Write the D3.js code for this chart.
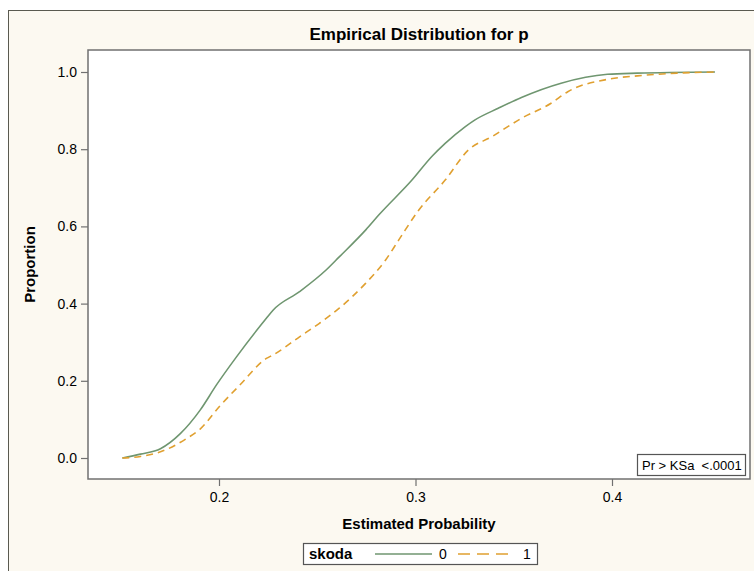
<!DOCTYPE html>
<html>
<head>
<meta charset="utf-8">
<script src="https://cdn.jsdelivr.net/npm/d3@7"></script>
<style>
  body { margin: 0; background: #fff; }
  svg { display: block; font-family: "Liberation Sans", Arial, sans-serif; }
</style>
</head>
<body>
<svg id="chart" width="754" height="571"></svg>
<script>
// ECDF of estimated probability p, by skoda group
const p0 = [0.1508, 0.1600, 0.1702, 0.1803, 0.1904, 0.1988, 0.2089, 0.2241, 0.2275, 0.2410, 0.2545, 0.2612,
            0.2747, 0.2814, 0.2982, 0.3083, 0.3151, 0.3252, 0.3303, 0.3421, 0.3539, 0.3741, 0.3977,
            0.4129, 0.4524];
const cdf0 = [0, 0.010, 0.024, 0.063, 0.124, 0.190, 0.262, 0.362, 0.383, 0.431, 0.487, 0.521,
              0.591, 0.630, 0.720, 0.781, 0.815, 0.858, 0.876, 0.906, 0.934, 0.971, 0.994,
              0.997, 1.0];
const p1 = [0.1508, 0.1600, 0.1702, 0.1837, 0.1904, 0.2005, 0.2106, 0.2241, 0.2275, 0.2410, 0.2511, 0.2612,
            0.2747, 0.2848, 0.2915, 0.3016, 0.3151, 0.3269, 0.3387, 0.3539, 0.3690, 0.3775, 0.3977,
            0.4129, 0.4331, 0.4524];
const cdf1 = [0, 0.004, 0.016, 0.051, 0.075, 0.135, 0.189, 0.258, 0.267, 0.314, 0.349, 0.388,
              0.453, 0.513, 0.565, 0.642, 0.720, 0.798, 0.832, 0.880, 0.919, 0.949, 0.981,
              0.990, 0.997, 1.0];
const groups = ["0", "1"];
const xTicks = [0.2, 0.3, 0.4];
const yTicks = [0, 0.2, 0.4, 0.6, 0.8, 1.0];

const colors = { "0": "#6f9670", "1": "#e0a030" };
const dashes = { "0": null, "1": "7,5" };

const svg = d3.select("#chart");
const plot = { left: 88, top: 50, right: 750, bottom: 479 };

// outer beige frame
svg.append("rect").attr("x", 8.5).attr("y", 10.5).attr("width", 760).attr("height", 580)
    .attr("fill", "#fcf9f1").attr("stroke", "#5a5a50").attr("stroke-width", 1);

svg.append("rect").attr("x", plot.left).attr("y", plot.top)
    .attr("width", plot.right - plot.left).attr("height", plot.bottom - plot.top)
    .attr("fill", "#fff");

const x = d3.scaleLinear().domain([0.2, 0.4]).range([219, 612]);
const y = d3.scaleLinear().domain([0, 1]).range([458, 72]);

const line = d3.line().x(d => x(d[0])).y(d => y(d[1])).curve(d3.curveMonotoneX);
const series = [
    { key: "0", pts: d3.zip(p0, cdf0) },
    { key: "1", pts: d3.zip(p1, cdf1) }
];
svg.append("g").selectAll("path").data(series).join("path")
    .attr("d", s => line(s.pts))
    .attr("fill", "none")
    .attr("stroke", s => colors[s.key])
    .attr("stroke-width", 1.6)
    .attr("stroke-dasharray", s => dashes[s.key]);

// plot frame
svg.append("rect").attr("x", plot.left).attr("y", plot.top)
    .attr("width", plot.right - plot.left).attr("height", plot.bottom - plot.top)
    .attr("fill", "none").attr("stroke", "#707070").attr("stroke-width", 1.5);

const fmt = d3.format(".1f");
const yAxis = svg.append("g").attr("transform", `translate(${plot.left},0)`)
    .call(d3.axisLeft(y).tickValues(yTicks).tickFormat(fmt).tickSize(7).tickPadding(4));
const xAxis = svg.append("g").attr("transform", `translate(0,${plot.bottom})`)
    .call(d3.axisBottom(x).tickValues(xTicks).tickFormat(fmt).tickSize(7).tickPadding(6));
[yAxis, xAxis].forEach(a => {
    a.select(".domain").remove();
    a.selectAll(".tick line").attr("stroke", "#707070").attr("stroke-width", 1.2);
    a.selectAll(".tick text").attr("fill", "#000").style("font-size", "14px")
        .style("font-family", "Liberation Sans, Arial, sans-serif");
});

svg.append("text").attr("x", (plot.left + plot.right) / 2).attr("y", 40)
    .attr("text-anchor", "middle").style("font-size", "17px").style("font-weight", "bold")
    .text("Empirical Distribution for p");
svg.append("text").attr("x", 419).attr("y", 529)
    .attr("text-anchor", "middle").style("font-size", "15px").style("font-weight", "bold")
    .text("Estimated Probability");
svg.append("text").attr("transform", `translate(35,${(plot.top + plot.bottom) / 2}) rotate(-90)`)
    .attr("text-anchor", "middle").style("font-size", "15px").style("font-weight", "bold")
    .text("Proportion");

// KS test inset
const ks = svg.append("g").attr("transform", "translate(637,454)");
ks.append("rect").attr("x", 0.5).attr("y", 0.5).attr("width", 108).attr("height", 21)
    .attr("fill", "#fff").attr("stroke", "#555").attr("stroke-width", 1.2);
ks.append("text").attr("x", 5).attr("y", 16).style("font-size", "13px")
    .attr("xml:space", "preserve").text("Pr > KSa  <.0001");

// legend
const lg = svg.append("g").attr("transform", "translate(303,543)");
lg.append("rect").attr("x", 0.5).attr("y", 0.5).attr("width", 234).attr("height", 21)
    .attr("fill", "#fff").attr("stroke", "#555").attr("stroke-width", 1.2);
lg.append("text").attr("x", 6).attr("y", 16).style("font-size", "15px").style("font-weight", "bold")
    .text("skoda");
const items = [{ key: "0", x0: 72, x1: 129, tx: 140 }, { key: "1", x0: 155, x1: 210, tx: 224 }];
items.forEach(it => {
    lg.append("line").attr("x1", it.x0).attr("x2", it.x1).attr("y1", 11).attr("y2", 11)
        .attr("stroke", colors[it.key]).attr("stroke-width", 1.6)
        .attr("stroke-dasharray", dashes[it.key] ? "12,7" : null);
    lg.append("text").attr("x", it.tx).attr("y", 16).attr("text-anchor", "middle")
        .style("font-size", "14px").text(groups[groups.indexOf(it.key)]);
});
</script>
</body>
</html>
